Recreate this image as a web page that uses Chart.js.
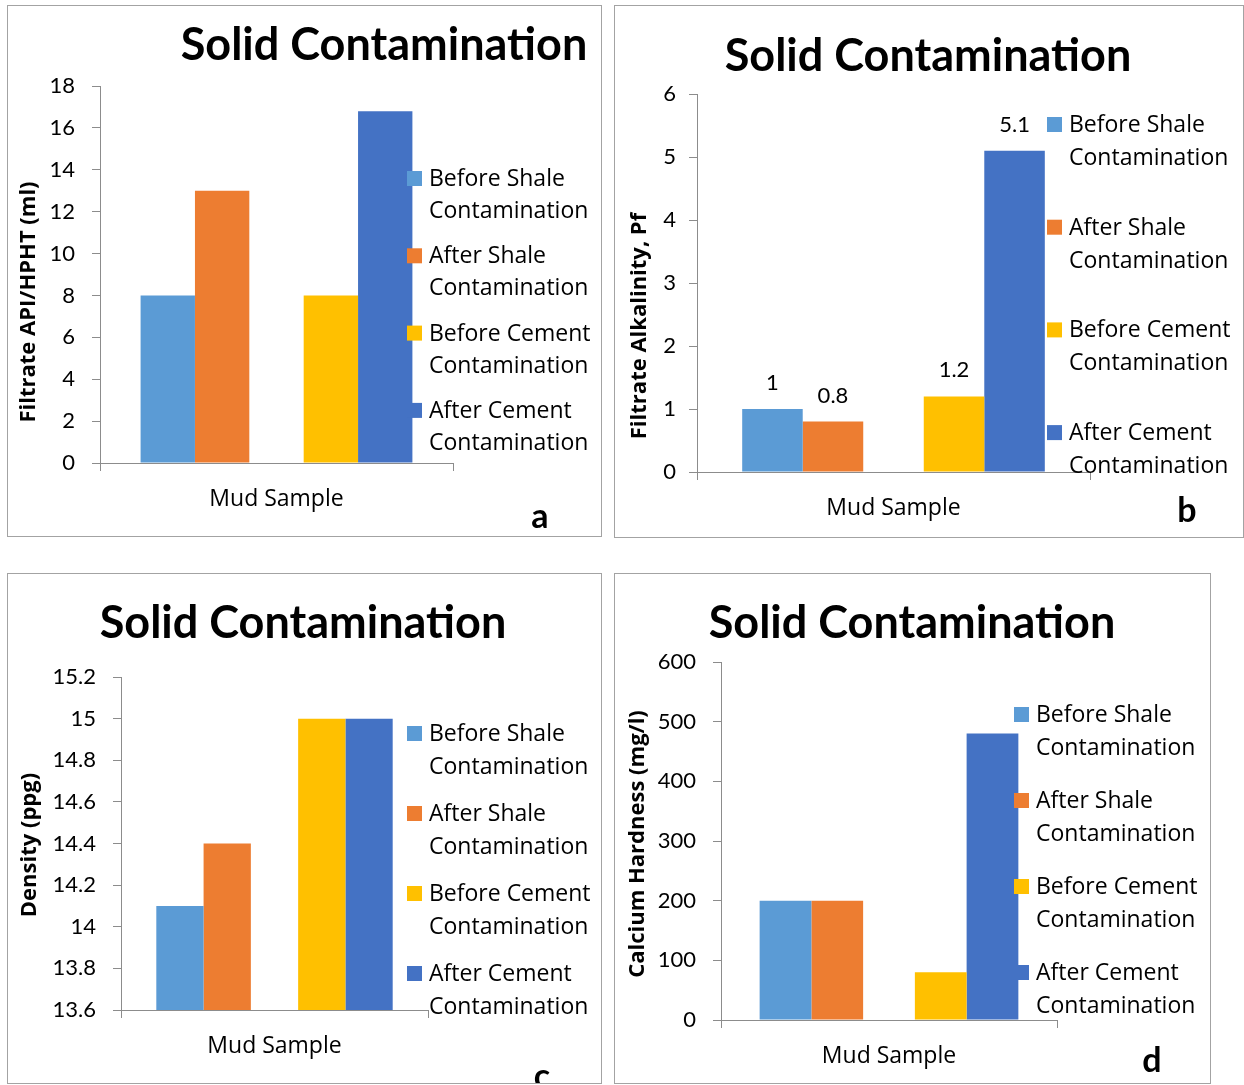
<!DOCTYPE html>
<html lang="en">
<head>
<meta charset="UTF-8">
<title>Solid Contamination</title>
<script src="https://cdn.jsdelivr.net/npm/chart.js@4.4.0/dist/chart.umd.min.js"></script>
<style>
  body { margin: 0; background: #fff; width: 1244px; height: 1085px; position: relative; overflow: hidden; }
  .panel { position: absolute; border: 1px solid #a3a3a3; box-sizing: border-box; background: #fff; }
  .panel canvas { position: absolute; left: 0; top: 0; }
</style>
</head>
<body>
<div class="panel" id="panelA"><canvas id="chartA"></canvas></div>
<div class="panel" id="panelB"><canvas id="chartB"></canvas></div>
<div class="panel" id="panelC"><canvas id="chartC"></canvas></div>
<div class="panel" id="panelD"><canvas id="chartD"></canvas></div>
<script>
// data
const categories = ['Mud Sample'];
const seriesNames = [
  ['Before Shale', 'Contamination'],
  ['After Shale', 'Contamination'],
  ['Before Cement', 'Contamination'],
  ['After Cement', 'Contamination']
];
const seriesColors = ['#5B9BD5', '#ED7D31', '#FFC000', '#4472C4'];

const filtrateApi = [8, 13, 8, 16.8];          // a
const alkalinityPf = [1, 0.8, 1.2, 5.1];       // b
const densityPpg = [14.1, 14.4, 15, 15];       // c
const calciumHardness = [200, 200, 80, 480];   // d

const ticksA = [0, 18, 2];
const ticksB = [0, 6, 1];
const ticksC = [13.6, 15.2, 0.2];
const ticksD = [0, 600, 100];

const FONT = 'Lato, "Open Sans", sans-serif';
const FONT2 = '"Open Sans", Lato, sans-serif';
const axisColor = '#8c8c8c';

// title, legend, y-title, panel letter and value labels
const decor = {
  id: 'decor',
  afterDatasetsDraw(chart, args, o) {
    if (!o.showValues) return;
    const ctx = chart.ctx;
    ctx.save();
    ctx.font = '22px ' + FONT;
    ctx.fillStyle = '#000';
    ctx.textAlign = 'center';
    ctx.textBaseline = 'alphabetic';
    chart.data.datasets.forEach((ds, i) => {
      if (ds.spacer) return;
      chart.getDatasetMeta(i).data.forEach((bar, j) => {
        ctx.fillText(String(ds.data[j]), bar.x, bar.y - 19);
      });
    });
    ctx.restore();
  },
  afterDraw(chart, args, o) {
    const ctx = chart.ctx;
    ctx.save();
    ctx.fillStyle = '#000';
    ctx.textBaseline = 'alphabetic';

    ctx.font = 'bold 45px ' + FONT;
    ctx.textAlign = 'center';
    ctx.fillText('Solid Contamination', o.titleX, o.titleY);

    ctx.save();
    ctx.translate(o.yTitleX, o.yTitleY);
    ctx.rotate(-Math.PI / 2);
    ctx.font = 'bold 22px ' + FONT2;
    ctx.textBaseline = 'middle';
    ctx.fillText(o.yTitle, 0, 0);
    ctx.restore();

    ctx.font = '23px ' + FONT2;
    ctx.textAlign = 'left';
    seriesNames.forEach((lines, i) => {
      const cy = o.legendY + i * o.legendStep;
      ctx.fillStyle = seriesColors[i];
      ctx.fillRect(o.legendX, cy - 7, 15, 15);
      ctx.fillStyle = '#000';
      lines.forEach((t, k) => ctx.fillText(t, o.legendX + 22, cy + 8 + k * o.legendLine));
    });

    ctx.font = 'bold 34px ' + FONT;
    ctx.textAlign = 'center';
    ctx.fillText(o.letter, o.letterX, o.letterY);
    ctx.restore();
  }
};

function makeChart(id, panelId, p) {
  const box = p.box;
  const panel = document.getElementById(panelId);
  panel.style.left = box.x + 'px';
  panel.style.top = box.y + 'px';
  panel.style.width = box.w + 'px';
  panel.style.height = box.h + 'px';
  const ox = box.x + 1, oy = box.y + 1;
  const cw = box.w - 2, ch = box.h - 2;
  const canvas = document.getElementById(id);
  canvas.width = cw;
  canvas.height = ch;

  const xh = 52;
  const datasets = [];
  p.values.forEach((v, i) => {
    if (i === 2) datasets.push({ label: '', data: [null], spacer: true });
    datasets.push({ label: seriesNames[i].join(' '), data: [v], backgroundColor: seriesColors[i], borderWidth: 0 });
  });

  return new Chart(canvas, {
    type: 'bar',
    data: { labels: categories, datasets: datasets },
    options: {
      responsive: false,
      animation: false,
      barPercentage: 1,
      categoryPercentage: 0.77,
      layout: {
        padding: {
          left: 0,
          top: p.axis.top - oy,
          right: ox + cw - p.axis.right,
          bottom: oy + ch - p.axis.bottom - xh
        }
      },
      plugins: {
        legend: { display: false },
        tooltip: { enabled: false },
        decor: {
          titleX: p.titleX - ox, titleY: p.titleY - oy,
          yTitle: p.yTitle, yTitleX: p.yTitleX - ox, yTitleY: p.yTitleY - oy,
          legendX: p.legend[0] - ox, legendY: p.legend[1] - oy,
          legendStep: p.legend[2], legendLine: p.legend[3],
          letter: p.letter, letterX: p.letterPos[0] - ox, letterY: p.letterPos[1] - oy,
          showValues: !!p.showValues
        }
      },
      scales: {
        x: {
          afterFit: (s) => { s.height = xh; },
          grid: { drawOnChartArea: false, tickLength: 8, color: axisColor, offset: true },
          border: { color: axisColor },
          ticks: { color: '#000', font: { family: FONT2, size: 23 }, padding: 15 }
        },
        y: {
          min: p.ticks[0], max: p.ticks[1],
          afterFit: (s) => { s.width = p.axis.left - ox; },
          grid: { drawOnChartArea: false, tickLength: 8, color: axisColor },
          border: { color: axisColor },
          ticks: {
            stepSize: p.ticks[2],
            color: '#000',
            font: { family: FONT, size: 22 },
            padding: p.tickPad,
            callback: (v) => String(Math.round(v * 10) / 10)
          }
        }
      }
    },
    plugins: [decor]
  });
}

makeChart('chartA', 'panelA', {
  box: { x: 7, y: 5, w: 595, h: 532 },
  axis: { left: 100, right: 453, top: 86, bottom: 463 },
  values: filtrateApi, ticks: ticksA, tickPad: 17,
  titleX: 384, titleY: 60,
  yTitle: 'Filtrate API/HPHT (ml)', yTitleX: 29, yTitleY: 302,
  legend: [407, 178, 77.3, 32],
  letter: 'a', letterPos: [540, 528]
});

makeChart('chartB', 'panelB', {
  box: { x: 614, y: 5, w: 630, h: 533 },
  axis: { left: 697, right: 1090, top: 94, bottom: 472 },
  values: alkalinityPf, ticks: ticksB, tickPad: 13,
  titleX: 928, titleY: 71,
  yTitle: 'Filtrate Alkalinity, Pf', yTitleX: 640, yTitleY: 326,
  legend: [1047, 124, 102.7, 33],
  letter: 'b', letterPos: [1187, 522],
  showValues: true
});

makeChart('chartC', 'panelC', {
  box: { x: 7, y: 573, w: 595, h: 511 },
  axis: { left: 121, right: 428, top: 677, bottom: 1010 },
  values: densityPpg, ticks: ticksC, tickPad: 17,
  titleX: 303, titleY: 638,
  yTitle: 'Density (ppg)', yTitleX: 30, yTitleY: 845,
  legend: [407, 733, 80, 33],
  letter: 'c', letterPos: [542, 1088]
});

makeChart('chartD', 'panelD', {
  box: { x: 614, y: 573, w: 597, h: 511 },
  axis: { left: 721, right: 1057, top: 662, bottom: 1020 },
  values: calciumHardness, ticks: ticksD, tickPad: 17,
  titleX: 912, titleY: 638,
  yTitle: 'Calcium Hardness (mg/l)', yTitleX: 638, yTitleY: 844,
  legend: [1014, 714, 86, 33],
  letter: 'd', letterPos: [1152, 1072]
});
</script>
</body>
</html>
